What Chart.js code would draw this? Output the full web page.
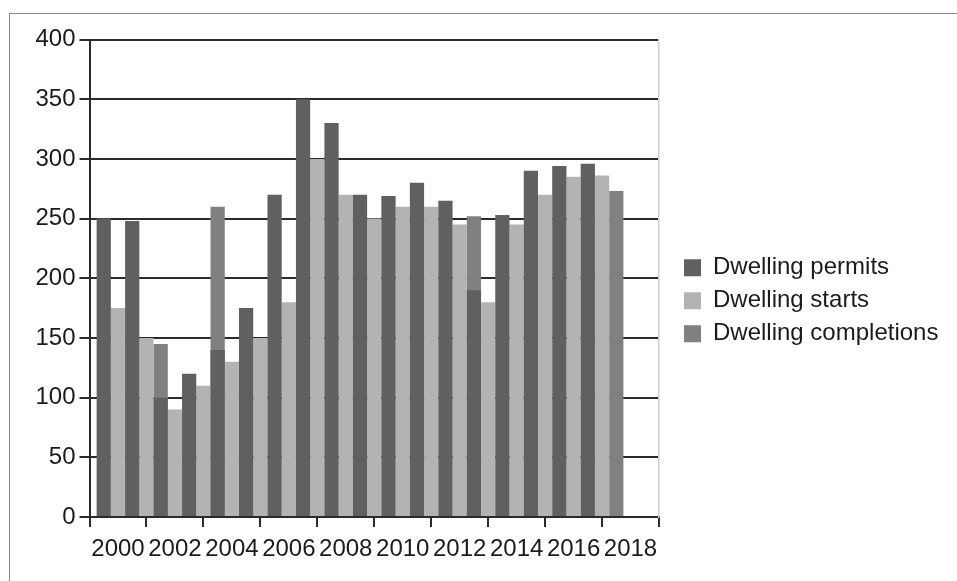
<!DOCTYPE html>
<html>
<head>
<meta charset="utf-8">
<script src="https://cdn.jsdelivr.net/npm/chart.js@4"></script>
<style>
  html, body { margin: 0; padding: 0; background: #ffffff; overflow: hidden; }
  #frame { position: absolute; left: 9px; top: 13px; width: 1200px; height: 900px;
           border-top: 1.5px solid #8a8a8a; border-left: 1.5px solid #8a8a8a; }
  #c { position: absolute; left: 0; top: 0; }
</style>
</head>
<body>
<div id="frame"></div>
<canvas id="c" width="957" height="581"></canvas>
<script>
// ---- data ----
const years = [2000, 2001, 2002, 2003, 2004, 2005, 2006, 2007, 2008, 2009,
               2010, 2011, 2012, 2013, 2014, 2015, 2016, 2017];
const permits = [250, 248, 100, 120, 140, 175, 270, 350, 330, 270,
                 269, 280, 265, 190, 253, 290, 294, 296];
const starts = [175, 150, 90, 110, 130, 150, 180, 300, 270, 250,
                260, 260, 245, 180, 245, 270, 285, 286];
// completions are only visible where they rise above the following year's permits bar
const completions = [null, 145, null, 260, null, null, null, null, null, null,
                     null, null, 252, null, null, null, null, 273];
const seriesNames = ['Dwelling permits', 'Dwelling starts', 'Dwelling completions'];
const tickYears = [2000, 2002, 2004, 2006, 2008, 2010, 2012, 2014, 2016, 2018];
const yTicks = [0, 50, 100, 150, 200, 250, 300, 350, 400];

const FONT_FAMILY = "'Liberation Sans', Arial, sans-serif";
const FONT_SIZE = 24;
const TEXT_COLOR = '#1b1b1b';
const LEGEND_PAD = 9;
const BOX_W = 17;

// measure legend text so the legend lands where it does in the reference
const mctx = document.createElement('canvas').getContext('2d');
mctx.font = FONT_SIZE + 'px ' + FONT_FAMILY;
const maxTextW = Math.max(...seriesNames.map(s => mctx.measureText(s).width));
const chartRight = 659;
const dummyW = 16;
const legendW = LEGEND_PAD + BOX_W + FONT_SIZE / 2 + maxTextW + 10;
const padRight = Math.max(0, 957 - chartRight - dummyW - legendW);

const toPts = arr => years.map((x, i) => ({ x: x, y: arr[i] }));

// let the right-hand legend take its natural width instead of the default cap
const legendWidthPlugin = {
  id: 'legendWidth',
  beforeLayout(chart) {
    const lg = chart.legend;
    if (lg && !lg._widthPatched) {
      const orig = lg.update;
      lg.update = function (mw, mh, margins) { return orig.call(this, Math.max(mw, 400), mh, margins); };
      lg._widthPatched = true;
    }
  }
};

new Chart(document.getElementById('c'), {
  type: 'bar',
  plugins: [legendWidthPlugin],
  data: {
    datasets: [
      { label: seriesNames[0], data: toPts(permits), backgroundColor: '#606060' },
      { label: seriesNames[1], data: toPts(starts), backgroundColor: '#b3b3b3' },
      { label: seriesNames[2], data: toPts(completions), backgroundColor: '#808080' }
    ]
  },
  options: {
    responsive: false,
    animation: false,
    devicePixelRatio: 1,
    datasets: { bar: { categoryPercentage: 1.5, barPercentage: 1.0, borderWidth: 0 } },
    layout: { padding: { left: 0, top: 39.5, right: padRight, bottom: 19 } },
    plugins: {
      tooltip: { enabled: false },
      title: { display: false },
      legend: {
        position: 'right',
        align: 'center',
        labels: {
          boxWidth: BOX_W,
          boxHeight: 17,
          padding: LEGEND_PAD,
          color: TEXT_COLOR,
          font: { family: FONT_FAMILY, size: FONT_SIZE }
        }
      }
    },
    scales: {
      x: {
        type: 'linear',
        min: 1999,
        max: 2019,
        offset: false,
        afterFit: s => { s.height = 45; },
        grid: {
          offset: false,
          drawOnChartArea: false,
          drawTicks: true,
          tickLength: 10,
          lineWidth: 2,
          color: c => (c.tick && Math.round(c.tick.value) % 2 === 1) ? '#2b2b2b' : 'rgba(0,0,0,0)'
        },
        border: { display: true, color: '#2b2b2b', width: 2 },
        ticks: {
          stepSize: 1,
          maxTicksLimit: 100,
          autoSkip: false,
          maxRotation: 0,
          minRotation: 0,
          padding: 8,
          color: TEXT_COLOR,
          font: { family: FONT_FAMILY, size: FONT_SIZE },
          callback: v => tickYears.includes(Math.round(v)) ? String(Math.round(v)) : ''
        }
      },
      y: {
        type: 'linear',
        position: 'left',
        min: 0,
        max: 400,
        afterFit: s => { s.width = 89.5; },
        afterBuildTicks: s => { s.ticks = yTicks.map(v => ({ value: v })); },
        grid: {
          drawOnChartArea: true,
          drawTicks: true,
          tickLength: 10,
          lineWidth: 2,
          color: '#2b2b2b'
        },
        border: { display: true, color: '#2b2b2b', width: 2 },
        ticks: {
          stepSize: 50,
          padding: 4,
          color: TEXT_COLOR,
          font: { family: FONT_FAMILY, size: FONT_SIZE },
          callback: v => String(v)
        }
      },
      y2: {
        type: 'linear',
        position: 'right',
        afterFit: s => { s.width = dummyW; },
        grid: { drawOnChartArea: false, drawTicks: false, color: 'rgba(0,0,0,0)' },
        border: { display: true, color: '#cfcfcf', width: 1.5 },
        ticks: { display: false }
      }
    }
  }
});
</script>
</body>
</html>
